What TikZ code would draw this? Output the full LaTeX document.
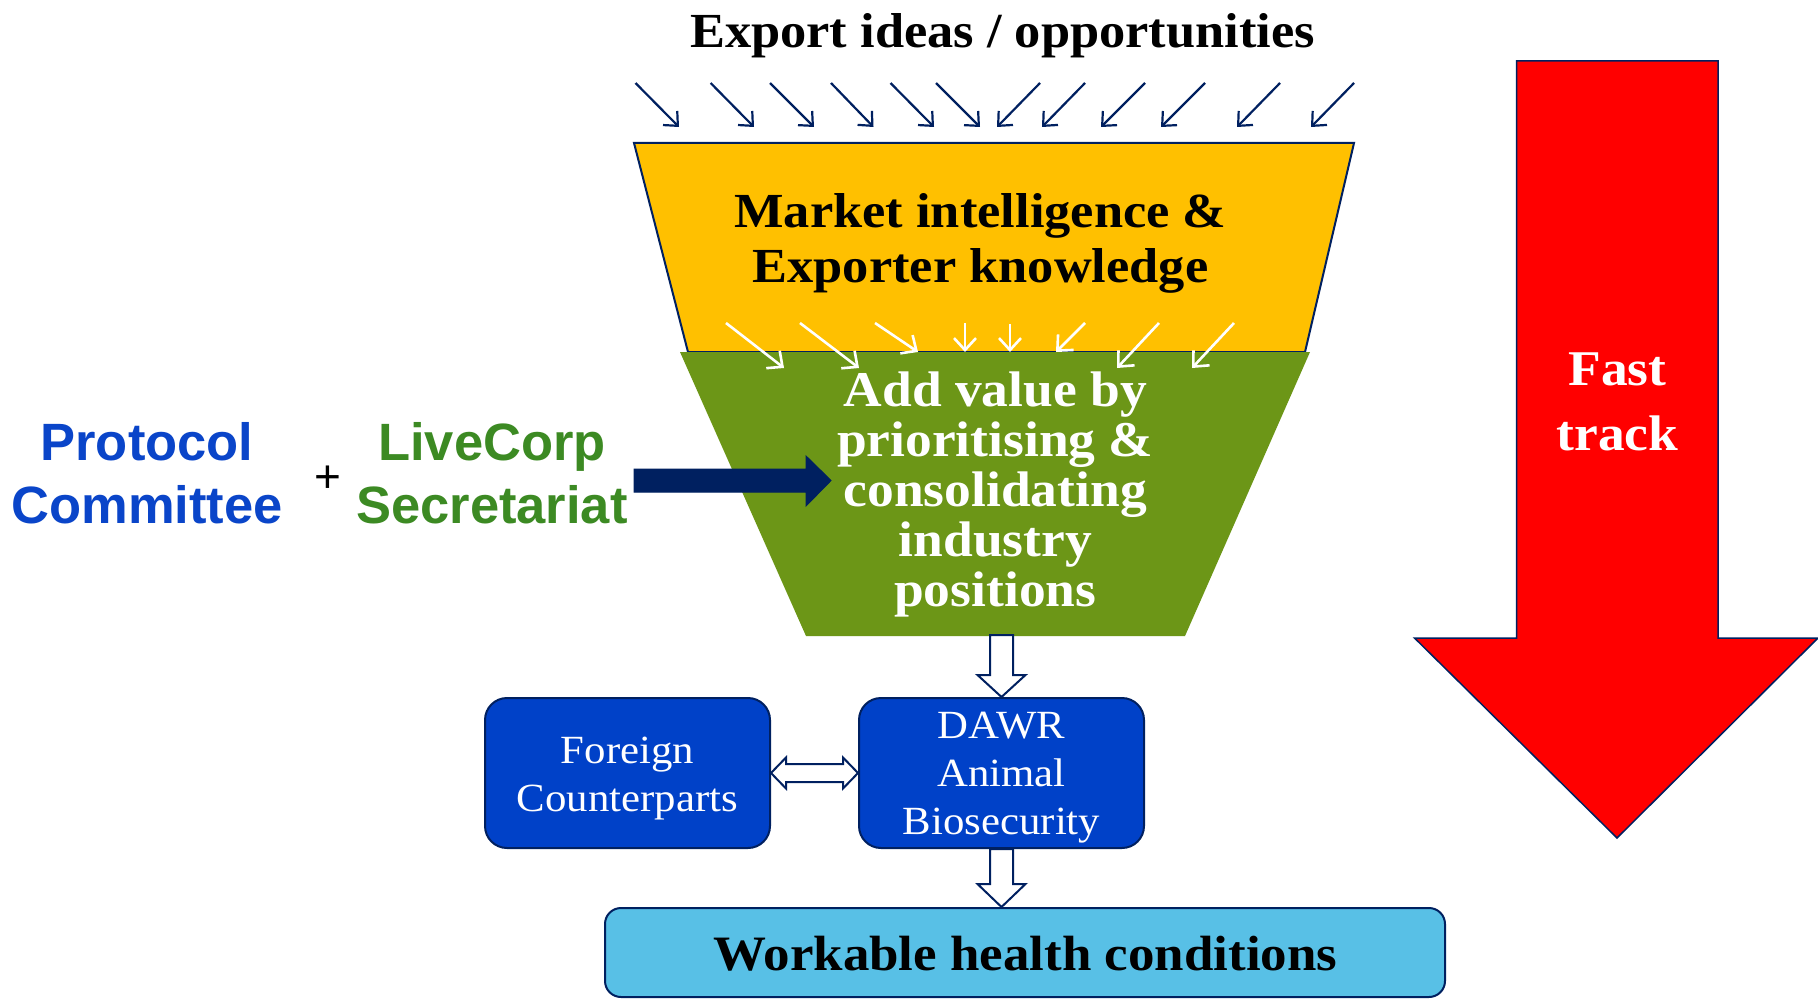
\documentclass[tikz,border=0pt]{standalone}
\usepackage{fontspec}
\newfontfamily\serifx{Liberation Serif}[FakeStretch=1.07]
\newfontfamily\sansx{Liberation Sans}
\usetikzlibrary{arrows.meta,calc}
\definecolor{navy}{HTML}{002060}
\definecolor{funnelyellow}{HTML}{FFC000}
\definecolor{funnelgreen}{HTML}{6C9617}
\definecolor{boxblue}{HTML}{0041C8}
\definecolor{protblue}{HTML}{0A45C9}
\definecolor{lcgreen}{HTML}{3C8A23}
\definecolor{lightblue}{HTML}{58C0E6}
\tikzset{
  smallarr/.style={draw=navy, line width=2.2pt, -{Straight Barb[length=11pt,width=20pt]}},
  whitearr/.style={draw=white, line width=2.6pt, -{Straight Barb[length=12pt,width=22pt]}},
  bluebox/.style={draw=navy, line width=2pt, fill=boxblue, rounded corners=22pt, minimum width=285pt, minimum height=150pt, inner sep=0pt},
  boxtxt/.style={text=white, align=center, inner sep=0pt, anchor=base, font=\serifx\fontsize{40}{48}\selectfont},
  bigtxt/.style={align=center, inner sep=0pt, anchor=base, font=\serifx\bfseries\fontsize{49}{55}\selectfont},
  sidetxt/.style={align=center, inner sep=0pt, anchor=base, font=\sansx\bfseries\fontsize{52.5}{63}\selectfont},
  hollow/.style={draw=navy, fill=white, line width=2pt, line join=miter},
}
\begin{document}
\begin{tikzpicture}[x=1pt,y=-1pt]
\useasboundingbox (0,0) rectangle (1818,1003);
\fill[white] (0,0) rectangle (1818,1003);

% fast track arrow
\draw[fill=red, draw=navy, line width=1.5pt, line join=miter]
  (1516.5,61) -- (1718,61) -- (1718,638) -- (1818,638) -- (1617,838) -- (1414.5,638) -- (1516.5,638) -- cycle;
\node[bigtxt, text=white, font=\serifx\bfseries\fontsize{50}{65}\selectfont] (fast) at (1617.5,450) {Fast\\track};

% funnel
\draw[fill=funnelyellow, draw=navy, line width=2pt, line join=miter]
  (634,143) -- (1354,143) -- (1305,352) -- (688,352) -- cycle;
\fill[funnelgreen] (680,352) -- (1310,352) -- (1185,636) -- (806,636) -- cycle;

% white arrows
\foreach \ax/\ay/\bx/\by in {726/323/784/368, 800/323/859/368, 875/323/918/352, 965/323/965/352,
  1010/324/1010/352, 1085/323/1056/352, 1159/323/1117/368, 1234/323/1192/368}
  \draw[whitearr] (\ax,\ay) -- (\bx,\by);

% navy small arrows
\foreach \ax/\bx in {635.5/679, 710.6/754, 770/814, 831/873.5, 890.5/934, 936/980,
  1040/997, 1085/1042, 1145/1101, 1205/1161, 1280/1237, 1354/1311}
  \draw[smallarr] (\ax,83) -- (\bx,127);

% texts
\node[bigtxt] (title) at (1002.5,48) {Export ideas / opportunities};
\node[bigtxt] (market) at (980.5,283) {Market intelligence \&\\Exporter knowledge};
\node[bigtxt, text=white, font=\serifx\bfseries\fontsize{50}{50}\selectfont] (value) at (995.3,606.7)
  {Add value by\\prioritising \&\\consolidating\\industry\\positions};

\node[sidetxt, text=protblue] (protocol) at (147,523) {Protocol\\Committee};
\node[sidetxt, text=lcgreen] (livecorp) at (492,523) {LiveCorp\\Secretariat};
\node[inner sep=0pt, font=\sansx\fontsize{46}{46}\selectfont] (plus) at (327.5,479) {+};

% navy block arrow
\coordinate (navstart) at (634,480.5);
\coordinate (navtip) at (831,480.5);
\draw[fill=navy, draw=navy, line width=1pt, line join=miter]
  ($(navstart)+(0,-11.5)$) -- ($(navtip)+(-25,-11.5)$) -- ($(navtip)+(-25,-24.5)$) -- (navtip)
  -- ($(navtip)+(-25,25.5)$) -- ($(navtip)+(-25,11.5)$) -- ($(navstart)+(0,11.5)$) -- cycle;

% boxes
\node[bluebox] (foreign) at (627.5,773) {};
\node[boxtxt] (foreigntxt) at (627.5,811) {Foreign\\Counterparts};
\node[bluebox] (dawr) at (1001.5,773) {};
\node[boxtxt] (dawrtxt) at (1001.5,834) {DAWR\\Animal\\Biosecurity};
\node[draw=navy, line width=2pt, fill=lightblue, rounded corners=16pt, minimum width=840pt, minimum height=89pt, inner sep=0pt]
  (workable) at (1025,952.5) {};
\node[bigtxt, font=\serifx\bfseries\fontsize{49.5}{55}\selectfont] (workabletxt) at (1025.5,970) {Workable health conditions};

% hollow block arrows
\draw[hollow] ($(dawr.north)+(-11.5,-62)$) -- ($(dawr.north)+(-11.5,-22)$) -- ($(dawr.north)+(-24,-22)$)
  -- (dawr.north) -- ($(dawr.north)+(24,-22)$) -- ($(dawr.north)+(11.5,-22)$) -- ($(dawr.north)+(11.5,-62)$) -- cycle;
\coordinate (wtop) at (dawr.south |- workable.north);
\draw[hollow] ($(dawr.south)+(-11.5,0)$) -- ($(wtop)+(-11.5,-23)$) -- ($(wtop)+(-24,-23)$)
  -- (wtop) -- ($(wtop)+(24,-23)$) -- ($(wtop)+(11.5,-23)$) -- ($(dawr.south)+(11.5,0)$) -- cycle;
\draw[hollow] (foreign.east) -- ($(foreign.east)+(15,-15.5)$) -- ($(foreign.east)+(15,-9)$)
  -- ($(dawr.west)+(-15,-9)$) -- ($(dawr.west)+(-15,-15.5)$) -- (dawr.west)
  -- ($(dawr.west)+(-15,15.5)$) -- ($(dawr.west)+(-15,9)$) -- ($(foreign.east)+(15,9)$)
  -- ($(foreign.east)+(15,15.5)$) -- cycle;
\end{tikzpicture}
\end{document}
